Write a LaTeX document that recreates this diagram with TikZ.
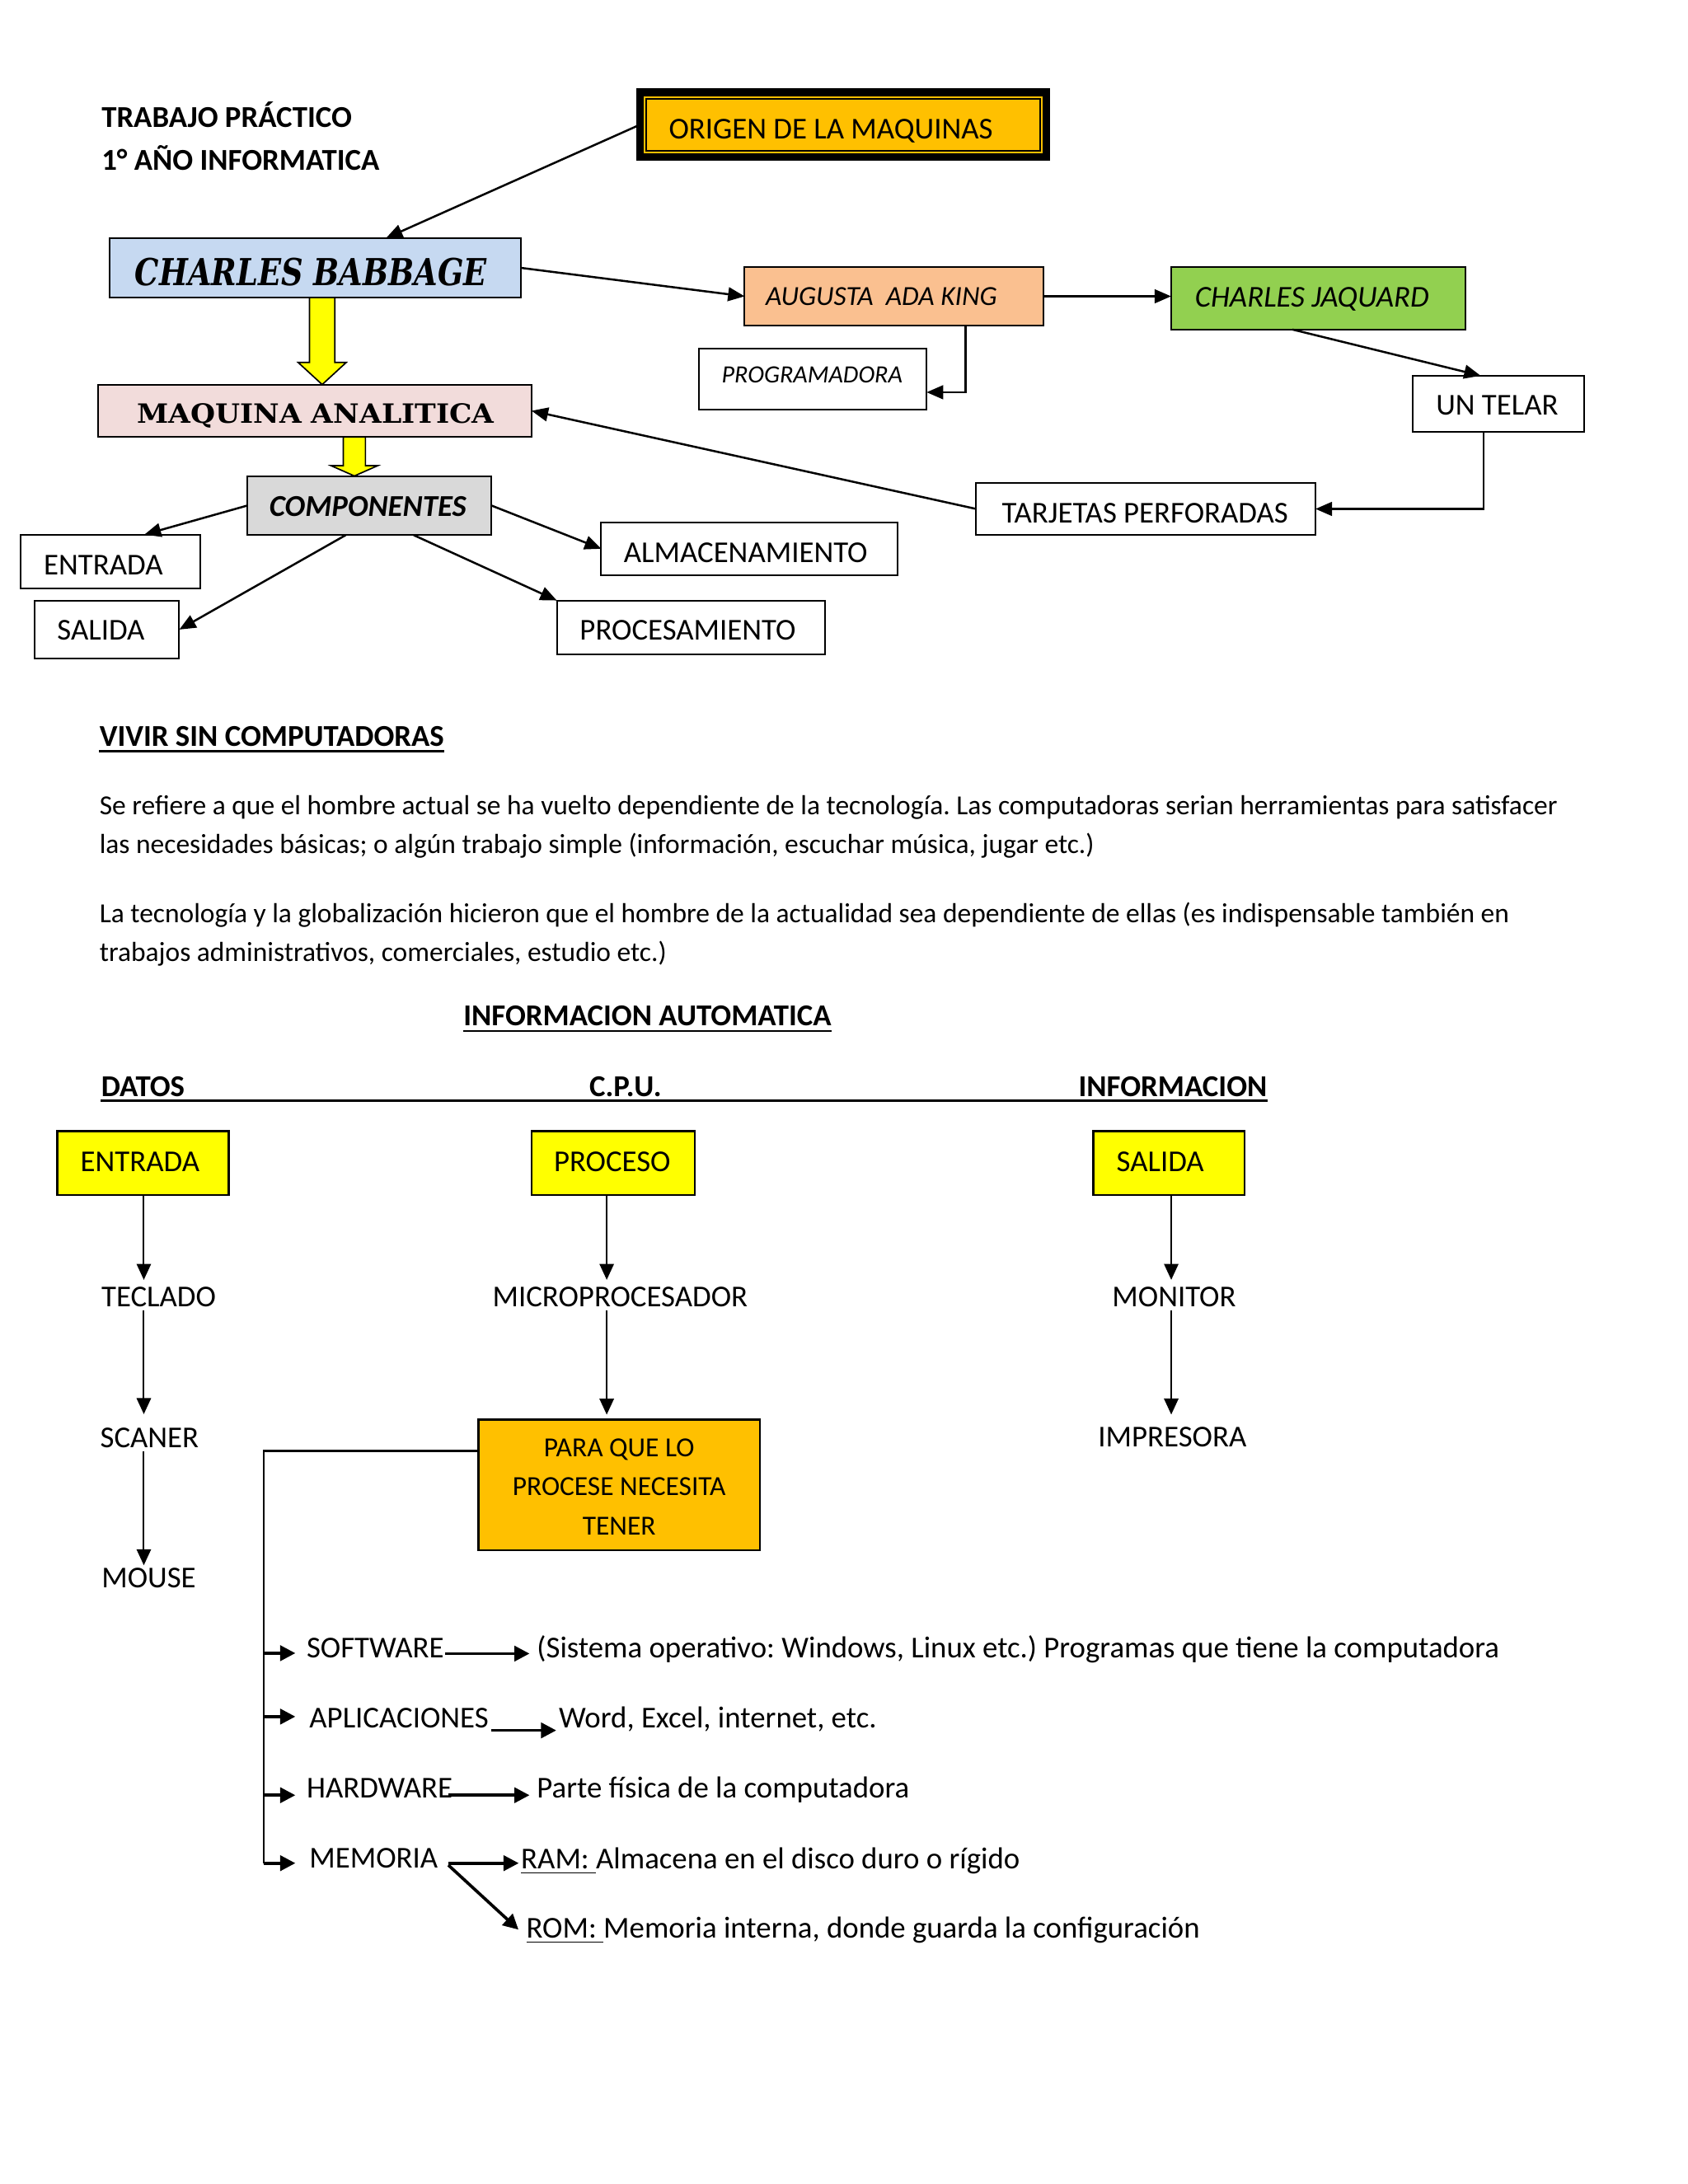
\documentclass[tikz,border=0pt]{standalone}
\usepackage{fontspec}
\setmainfont{Carlito}
\newfontfamily\heavyserif{DejaVu Serif}
\usetikzlibrary{arrows.meta,calc}
\definecolor{orangeC}{HTML}{FFC000}
\definecolor{cbBlue}{HTML}{C6D9F1}
\definecolor{maPink}{HTML}{F2DCDB}
\definecolor{compGray}{HTML}{D9D9D9}
\definecolor{augOr}{HTML}{FAC090}
\definecolor{jaqGreen}{HTML}{92D050}
\definecolor{yel}{HTML}{FFFF00}
\newcommand\mkbox[6]{\node[bx={#2}{#3}{#4}{#5},#6] (#1) at ({(#2+#4)/2},{(#3+#5)/2}) {};}
\frenchspacing
\begin{document}
\begin{tikzpicture}[x=0.5pt,y=-0.5pt,
  bx/.style n args={4}{rectangle, inner sep=0pt, outer sep=0pt, minimum width={(#3-#1)*0.5pt}, minimum height={(#4-#2)*0.5pt}},
  wb/.style={draw=black, line width=0.6pt},
  ybd/.style={draw=black, line width=0.7pt},
  tx/.style={inner sep=0pt, anchor=base west, font=\fontsize{11pt}{13pt}\selectfont\frenchspacing},
  txp/.style={tx, font=\fontsize{10pt}{12pt}\selectfont\frenchspacing},
  txb/.style={tx, font=\fontsize{11pt}{13pt}\selectfont\bfseries},
  txi/.style={tx, font=\fontsize{11pt}{13pt}\selectfont\itshape},
  txbi/.style={tx, font=\fontsize{11pt}{13pt}\selectfont\bfseries\itshape},
  t10c/.style={inner sep=0pt, anchor=base, font=\fontsize{10pt}{12pt}\selectfont},
  arr/.style={-{Triangle[length=6pt,width=5pt]}, line width=0.75pt},
  varr/.style={-{Triangle[length=5.8pt,width=5.2pt]}, line width=0.6pt},
  barr/.style={-{Triangle[length=5.5pt,width=5.5pt]}, line width=1.1pt},
  trunk/.style={line width=0.6pt},
  yarrow/.style={fill=yel, draw=black, line width=0.5pt, line join=miter}
]
\fill[white] (0,0) rectangle (1224,1584);
\useasboundingbox (0,0) rectangle (1224,1584);

% ---------- header ----------
\node[txb] (h1) at (73.3,92.6) {TRABAJO PRÁCTICO};
\node[txb] (h2) at (73.3,123.5) {1° AÑO INFORMATICA};

% ---------- top map ----------
\mkbox{orig}{464}{67}{759}{114}{fill=orangeC, draw=black, line width=2.8pt}
\draw[line width=0.6pt] ($(orig.north west)+(4.5,4.5)$) rectangle ($(orig.south east)+(-4.5,-4.5)$);
\node[tx] (origT) at (484.7,101) {ORIGEN DE LA MAQUINAS};

\mkbox{cb}{79.3}{172.7}{377.6}{215.8}{fill=cbBlue, wb}
\node[inner sep=0pt, anchor=base west] (cbT) at (97.6,207.2) {\resizebox{127.6pt}{10pt}{\heavyserif\bfseries\itshape CHARLES BABBAGE}};

\mkbox{ma}{70.9}{278.9}{385.5}{317}{fill=maPink, wb}
\node[inner sep=0pt, anchor=base west] (maT) at (99.1,306.8) {\resizebox{129.4pt}{7.15pt}{\heavyserif\bfseries MAQUINA ANALITICA}};

\mkbox{comp}{179.4}{345.2}{356.4}{388.1}{fill=compGray, wb}
\node[txbi] (compT) at (195,374.5) {COMPONENTES};

\mkbox{entT}{14.7}{387.7}{145}{426.6}{wb, fill=white}
\node[tx] (entTt) at (31.4,416.8) {ENTRADA};
\mkbox{salT}{25.2}{435.5}{130}{477.7}{wb, fill=white}
\node[tx] (salTt) at (41.1,464.2) {SALIDA};
\mkbox{alm}{436}{379}{650.7}{417}{wb, fill=white}
\node[tx] (almT) at (452,408) {ALMACENAMIENTO};
\mkbox{proc}{403.8}{435.5}{598.3}{474.5}{wb, fill=white}
\node[tx] (procT) at (420.1,464.2) {PROCESAMIENTO};

\mkbox{aug}{540}{193.8}{757}{236}{fill=augOr, wb}
\node[tx, font=\fontsize{10pt}{12pt}\selectfont\itshape] (augT) at (555,221.5) {AUGUSTA\ \ ADA KING};
\mkbox{prog}{507}{252.6}{672}{296.8}{wb, fill=white}
\node[tx, font=\fontsize{9pt}{11pt}\selectfont\itshape] (progT) at (523,277.5) {PROGRAMADORA};
\mkbox{jaq}{849.3}{193.8}{1062.8}{239}{fill=jaqGreen, wb}
\node[txi] (jaqT) at (866.2,222.7) {CHARLES JAQUARD};
\mkbox{telar}{1024.4}{272.5}{1149}{313.4}{wb, fill=white}
\node[tx] (telarT) at (1041,301.2) {UN TELAR};
\mkbox{tarj}{707.9}{350.2}{954}{388}{wb, fill=white}
\node[tx] (tarjT) at (726.2,379) {TARJETAS PERFORADAS};

% yellow block arrows
\coordinate (ya) at ($(cb.south)+(5.2,0)$);
\coordinate (yb) at (ya |- ma.north);
\draw[yarrow] ($(ya)+(-9.2,0)$) -- ($(yb)+(-9.2,-16)$) -- ($(yb)+(-17.4,-16)$) -- (yb)
  -- ($(yb)+(17.4,-16)$) -- ($(yb)+(9.2,-16)$) -- ($(ya)+(9.2,0)$) -- cycle;
\coordinate (yc) at ($(comp.north)+(-10.9,0)$);
\coordinate (yd) at (yc |- ma.south);
\draw[yarrow] ($(yd)+(-8,0)$) -- ($(yc)+(-8,-7.5)$) -- ($(yc)+(-17,-7.5)$) -- (yc)
  -- ($(yc)+(17,-7.5)$) -- ($(yc)+(8,-7.5)$) -- ($(yd)+(8,0)$) -- cycle;

% connectors
\draw[arr] (orig.west) -- ($(cb.north)+(51.5,0)$);
\draw[arr] (cb.east) -- (aug.west);
\draw[arr] (aug.east) -- (aug.east -| jaq.west);
\draw[arr] ($(aug.south)+(51.8,0)$) |- ($(prog.east)+(0,9.8)$);
\draw[arr] ($(jaq.south)+(-18.7,0)$) -- ($(telar.north)+(-12.9,0)$);
\draw[arr] ($(telar.south)+(-10.9,0)$) |- (tarj.east);
\draw[arr] (tarj.west) -- (ma.east);
\draw[arr] (comp.west) -- ($(entT.north)+(24.9,0)$);
\draw[arr] ($(comp.south)+(-17.2,0)$) -- (salT.east);
\draw[arr] (comp.east) -- (alm.west);
\draw[arr] ($(comp.south)+(32.1,0)$) -- (proc.north west);

% ---------- text section ----------
\node[txb] (viv) at (71.8,541.5) {VIVIR SIN COMPUTADORAS};
\draw[line width=0.8pt] ($(viv.base west)+(0,3.5)$) -- ($(viv.base east)+(0,3.5)$);
\node[txp] (p1a) at (71.8,591) {Se refiere a que el hombre actual se ha vuelto dependiente de la tecnología. Las computadoras serian herramientas para satisfacer};
\node[txp] (p1b) at (71.8,619) {las necesidades básicas; o algún trabajo simple (información, escuchar música, jugar etc.)};
\node[txp] (p2a) at (71.8,669) {La tecnología y la globalización hicieron que el hombre de la actualidad sea dependiente de ellas (es indispensable también en};
\node[txp] (p2b) at (71.8,697) {trabajos administrativos, comerciales, estudio etc.)};

\node[txb] (ia) at (335.7,744) {INFORMACION AUTOMATICA};
\draw[line width=0.8pt] ($(ia.base west)+(0,3.7)$) -- ($(ia.base east)+(0,3.7)$);

% ---------- bottom diagram ----------
\node[txb] (dat) at (73,795.3) {DATOS};
\node[txb] (cpu) at (427,795.3) {C.P.U.};
\node[txb] (inf) at (781.8,795.3) {INFORMACION};
\draw[line width=1pt] ($(dat.base west)+(0,2.8)$) -- ($(inf.base east)+(0,2.8)$);

\mkbox{entY}{41.5}{820.4}{165.9}{866.6}{fill=yel, ybd}
\node[tx] (entYt) at (58,849.7) {ENTRADA};
\mkbox{procY}{385.4}{820.4}{503.8}{866.6}{fill=yel, ybd}
\node[tx] (procYt) at (401.3,849.7) {PROCESO};
\mkbox{salY}{792.8}{820.4}{902.5}{866.6}{fill=yel, ybd}
\node[tx] (salYt) at (809.3,849.7) {SALIDA};

\node[tx] (tecl) at (73.2,947.9) {TECLADO};
\node[tx] (scan) at (72.3,1050) {SCANER};
\node[tx] (mouse) at (73.3,1151.7) {MOUSE};
\node[tx] (micro) at (356.8,947.9) {MICROPROCESADOR};
\node[tx] (moni) at (806.2,947.9) {MONITOR};
\node[tx] (impr) at (796,1049.5) {IMPRESORA};

\mkbox{para}{347}{1029.6}{551}{1124.2}{fill=orangeC, ybd}
\node[t10c] (para1) at (449,1056.3) {PARA QUE LO};
\node[t10c] (para2) at (449,1084.7) {PROCESE NECESITA};
\node[t10c] (para3) at (449,1113) {TENER};

\coordinate (c1) at (104.3,0);
\coordinate (c2) at (440,0);
\coordinate (c3) at (849.4,0);
\draw[varr] (entY.south -| c1) -- ($(tecl.north -| c1)+(0,-5)$);
\draw[varr] ($(tecl.south -| c1)+(0,2)$) -- ($(scan.north -| c1)+(0,-9.7)$);
\draw[varr] ($(scan.south -| c1)+(0,2)$) -- ($(mouse.north -| c1)+(0,-1.8)$);
\draw[varr] (procY.south -| c2) -- ($(micro.north -| c2)+(0,-5)$);
\draw[varr] ($(micro.south -| c2)+(0,2)$) -- ($(para.north -| c2)+(0,-3.6)$);
\draw[varr] (salY.south -| c3) -- ($(moni.north -| c3)+(0,-5)$);
\draw[varr] ($(moni.south -| c3)+(0,2)$) -- ($(impr.north -| c3)+(0,-8.9)$);

\node[tx] (sw) at (222,1202.5) {SOFTWARE};
\node[tx] (sis) at (389,1202.5) {(Sistema operativo: Windows, Linux etc.) Programas que tiene la computadora};
\node[tx] (apl) at (224,1253) {APLICACIONES};
\node[tx] (word) at (405,1253) {Word, Excel, internet, etc.};
\node[tx] (hw) at (222,1304) {HARDWARE};
\node[tx] (parte) at (389,1304) {Parte física de la computadora};
\node[tx] (mem) at (224,1355) {MEMORIA};
\node[tx] (ram) at (377.5,1355.5) {\underline{RAM:\ }Almacena en el disco duro o rígido};
\node[tx] (rom) at (381.3,1405.5) {\underline{ROM:\ }Memoria interna, donde guarda la configuración};

\coordinate (tk) at (191.5,0);
\coordinate (swA) at ($(sw.base west)+(-7.8,-3.5)$);
\coordinate (aplA) at ($(apl.base west)+(-9.8,-8)$);
\coordinate (hwA) at ($(hw.base west)+(-7.8,-2)$);
\coordinate (memA) at ($(mem.base west)+(-9.8,-3.7)$);
\draw[trunk] ($(para.west)+(0,-24.6)$) -| (memA -| tk);
\draw[barr] (swA -| tk) -- (swA);
\draw[barr] (aplA -| tk) -- (aplA);
\draw[barr] (hwA -| tk) -- (hwA);
\draw[barr] (memA -| tk) -- (memA);

\draw[barr] ($(sw.base east)+(0.5,-3.2)$) -- ($(sis.base west)+(-5,-3.2)$);
\draw[barr] ($(apl.base east)+(1.3,2)$) -- ($(word.base west)+(-1.6,2)$);
\draw[barr] ($(hw.base east)+(-3.3,-2)$) -- ($(parte.base west)+(-5,-2)$);
\draw[barr] ($(mem.base east)+(7.2,-3.7)$) -- ($(ram.base west)+(-1.3,-4.2)$);
\draw[barr] ($(mem.base east)+(7.2,-2.3)$) -- ($(rom.base west)+(-5.3,-6)$);
\end{tikzpicture}
\end{document}
